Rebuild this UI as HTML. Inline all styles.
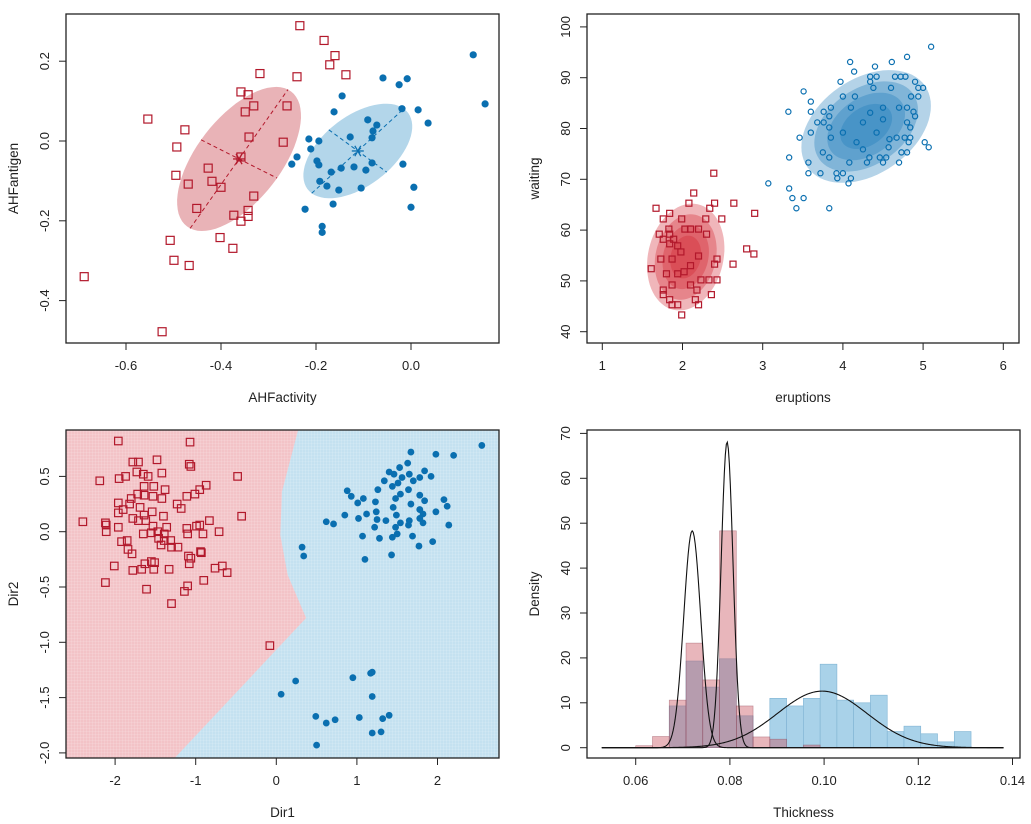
<!DOCTYPE html>
<html><head><meta charset="utf-8"><style>
html,body{margin:0;padding:0;background:#fff}
svg{display:block;font-family:"Liberation Sans",Arial,sans-serif}
</style></head><body>
<svg id="chart" width="1031" height="824" viewBox="0 0 1031 824" xmlns="http://www.w3.org/2000/svg"></svg>
<script>
// ---------- Panel 1 data (AHFactivity vs AHFantigen) ----------
const p1RedX=[-0.234,-0.183,-0.160,-0.171,-0.137,-0.318,-0.240,-0.358,-0.343,-0.331,-0.349,-0.261,-0.554,-0.476,-0.341,-0.269,-0.493,-0.358,-0.427,-0.495,-0.419,-0.469,-0.400,-0.331,-0.451,-0.343,-0.373,-0.343,-0.358,-0.507,-0.402,-0.375,-0.499,-0.467,-0.688,-0.524];
const p1RedY=[0.289,0.252,0.214,0.191,0.166,0.169,0.161,0.123,0.116,0.088,0.073,0.088,0.055,0.028,0.010,-0.003,-0.015,-0.040,-0.068,-0.086,-0.101,-0.108,-0.116,-0.138,-0.169,-0.174,-0.186,-0.189,-0.201,-0.249,-0.242,-0.269,-0.299,-0.312,-0.340,-0.478];
const p1BlueX=[0.131,0.156,-0.059,-0.025,-0.008,-0.145,-0.019,0.015,0.036,-0.162,-0.091,-0.072,-0.080,-0.082,-0.128,-0.215,-0.194,-0.211,-0.240,-0.251,-0.198,-0.194,-0.147,-0.120,-0.095,-0.082,-0.017,-0.168,-0.192,-0.177,-0.152,-0.105,0.006,-0.164,-0.223,0.000,-0.187,-0.187];
const p1BlueY=[0.216,0.093,0.158,0.141,0.156,0.113,0.081,0.078,0.045,0.073,0.053,0.040,0.025,0.008,0.010,0.005,0.000,-0.020,-0.040,-0.058,-0.050,-0.060,-0.068,-0.065,-0.073,-0.055,-0.058,-0.078,-0.101,-0.113,-0.123,-0.118,-0.116,-0.158,-0.171,-0.166,-0.214,-0.229];
const p1Centers=[[-0.362,-0.045],[-0.112,-0.025]];
const p1Major=[[0.103,0.174],[0.097,0.106]];
const p1Minor=[[0.080,-0.048],[0.061,-0.053]];
const p1XTicks=[-0.6,-0.4,-0.2,0.0];
const p1YTicks=[0.2,0.0,-0.2,-0.4];

// ---------- Panel 2 data (faithful) ----------
const p2BlueX=[5.10,4.80,4.09,4.61,4.40,4.14,4.34,4.42,4.65,4.72,4.78,3.97,4.34,4.90,3.51,4.38,4.60,4.94,5.00,3.60,4.00,4.15,4.85,4.94,3.32,3.60,3.76,3.85,4.10,4.50,4.70,4.80,4.88,3.83,4.90,3.68,3.76,4.80,3.83,4.84,3.60,3.46,3.85,4.67,4.77,4.84,4.82,4.57,5.02,5.07,3.75,4.73,4.80,3.33,3.83,4.33,4.46,4.54,3.57,4.08,4.30,4.50,4.70,3.57,3.72,3.92,4.00,3.93,4.10,4.07,3.07,3.33,3.37,3.51,3.42,3.83,4.25,4.42,4.17,4.50,4.00,4.34,4.58,4.25];
const p2BlueY=[96.1,94.1,93.1,93.1,92.2,91.2,90.2,90.2,90.2,90.2,90.2,89.2,89.2,89.2,87.3,88.0,88.0,88.0,88.0,85.3,86.3,86.3,86.3,86.3,83.3,83.3,83.3,84.1,84.1,84.1,84.1,84.1,83.3,82.4,82.4,81.2,81.2,81.2,80.2,80.2,79.2,78.2,78.2,78.2,78.2,78.2,77.3,76.3,77.3,76.3,75.3,75.3,75.3,74.3,74.3,74.3,74.3,74.3,73.3,73.3,73.3,73.3,73.3,71.2,71.2,71.2,71.2,70.2,70.2,69.2,69.2,68.2,66.3,66.3,64.3,64.3,81.2,79.2,77.3,81.8,79.2,83.1,77.9,75.9];
const p2RedX=[2.39,2.14,1.67,2.08,2.40,2.64,1.84,2.34,2.90,1.76,1.99,2.29,2.49,1.83,2.03,2.10,2.20,1.71,1.84,2.30,1.76,1.89,1.84,2.80,2.89,1.73,1.87,2.43,1.61,2.63,2.40,1.80,1.94,2.23,2.33,2.43,1.87,2.10,1.76,2.18,2.36,1.76,1.84,2.16,1.87,1.94,2.20,1.99,1.98,2.10,1.94,2.20,2.02];
const p2RedY=[71.2,67.3,64.3,65.3,65.3,65.3,63.3,64.3,63.3,62.2,62.2,62.2,62.2,60.2,60.2,60.2,60.2,59.2,59.2,59.2,58.2,58.2,57.3,56.3,55.3,54.3,54.3,54.3,52.4,53.3,53.3,51.4,51.4,50.2,50.2,50.2,49.2,49.2,48.2,48.2,47.3,47.3,46.3,46.3,45.3,45.3,45.3,43.3,55.7,53.0,56.9,54.9,51.8];
const p2Centers=[[2.04,54.7],[4.29,80.4]];
const p2Major=[[0.149,10.4],[0.732,8.04]];
const p2Minor=[[0.459,-1.57],[0.341,-7.65]];
const p2Levels=[1.0,0.8,0.6,0.4];
const p2XTicks=[1,2,3,4,5,6];
const p2YTicks=[40,50,60,70,80,90,100];

// ---------- Panel 3 data (Dir1 vs Dir2) ----------
const p3RedX=[-1.96,-1.07,-1.78,-1.71,-1.48,-1.73,-1.65,-1.59,-1.42,-2.19,-1.95,-1.87,-1.08,-1.06,-0.48,-1.64,-1.52,-0.87,-1.38,-1.72,-1.64,-1.53,-0.95,-1.01,-1.11,-1.42,-1.80,-1.96,-1.82,-1.23,-1.18,-1.69,-1.90,-1.96,-1.64,-1.54,-1.40,-1.78,-1.71,-1.62,-0.43,-2.40,-2.12,-2.11,-0.83,-1.53,-1.36,-1.96,-1.11,-0.99,-0.95,-0.71,-2.11,-1.65,-1.55,-1.47,-1.39,-1.10,-0.91,-1.46,-1.39,-1.31,-1.92,-1.85,-1.43,-1.30,-1.22,-1.84,-1.79,-0.94,-0.93,-1.09,-1.06,-1.08,-1.55,-1.51,-1.63,-2.01,-1.78,-1.67,-1.52,-1.33,-0.76,-0.67,-0.61,-0.90,-2.12,-1.61,-1.10,-1.14,-1.30,-0.08];
const p3RedY=[0.82,0.81,0.63,0.63,0.65,0.54,0.52,0.50,0.53,0.46,0.48,0.50,0.61,0.59,0.50,0.41,0.41,0.42,0.38,0.34,0.33,0.32,0.38,0.34,0.32,0.30,0.30,0.26,0.25,0.25,0.21,0.22,0.20,0.17,0.15,0.18,0.14,0.12,0.10,0.10,0.14,0.09,0.08,0.06,0.10,0.05,0.04,0.04,0.03,0.05,0.06,0.00,0.00,-0.02,-0.01,0.00,-0.02,-0.02,-0.02,-0.06,-0.08,-0.08,-0.09,-0.08,-0.12,-0.14,-0.14,-0.16,-0.20,-0.18,-0.19,-0.22,-0.24,-0.29,-0.27,-0.28,-0.29,-0.31,-0.35,-0.34,-0.34,-0.34,-0.33,-0.31,-0.37,-0.44,-0.46,-0.52,-0.49,-0.54,-0.65,-1.03];
const p3BlueX=[2.55,1.67,1.98,2.20,1.63,1.53,1.40,1.84,1.46,1.65,1.56,1.78,1.92,1.34,1.70,1.51,1.44,1.26,0.88,1.64,1.54,0.93,1.08,1.48,1.78,2.08,1.01,1.23,1.67,1.84,2.12,1.45,1.78,0.85,1.12,1.24,1.49,1.82,1.98,1.02,1.25,1.36,1.65,1.78,0.62,0.71,1.54,1.82,2.14,1.22,1.48,1.64,1.50,1.07,1.28,1.44,1.69,1.94,1.77,0.32,0.34,1.10,1.43,1.19,1.17,0.95,0.24,0.06,1.19,0.49,0.62,0.73,1.03,1.32,1.40,1.19,1.30,0.50];
const p3BlueY=[0.78,0.72,0.70,0.69,0.62,0.58,0.54,0.55,0.52,0.52,0.49,0.49,0.50,0.46,0.46,0.44,0.41,0.38,0.37,0.38,0.34,0.32,0.30,0.30,0.33,0.29,0.26,0.27,0.25,0.28,0.23,0.22,0.20,0.15,0.16,0.18,0.15,0.16,0.18,0.12,0.11,0.10,0.10,0.12,0.09,0.07,0.08,0.08,0.06,0.04,0.04,0.06,-0.02,-0.04,-0.06,-0.05,-0.04,-0.09,-0.13,-0.14,-0.22,-0.25,-0.21,-1.27,-1.28,-1.32,-1.35,-1.47,-1.49,-1.67,-1.73,-1.70,-1.68,-1.69,-1.66,-1.82,-1.81,-1.93];
const p3BoundX=[0.27,0.07,0.05,0.14,0.37,-1.26];
const p3BoundY=[0.92,0.36,-0.03,-0.39,-0.78,-2.05];
const p3XTicks=[-2,-1,0,1,2];
const p3YTicks=[0.5,0.0,-0.5,-1.0,-1.5,-2.0];

// ---------- Panel 4 data (Thickness histogram) ----------
const histStart=0.06;
const histWidth=0.00356;
const histRed=[0.45,2.5,10.6,23.3,15.1,48.3,9.3,2.4,1.9,0,0.6,0,0,0,0,0,0,0,0,0];
const histBlue=[0,0,9.3,19.3,13.5,19.8,7.1,0,11.0,9.3,11.0,18.6,10.6,10.0,11.7,3.6,4.8,3.1,1.3,3.6];
const curveMu=[0.0720,0.0794,0.0996];
const curveSigma=[0.0018,0.00126,0.0095];
const curvePeak=[48.3,68.1,12.6];
const p4XTicks=[0.06,0.08,0.10,0.12,0.14];
const p4YTicks=[0,10,20,30,40,50,60,70];

// ---------- helpers ----------
const NS="http://www.w3.org/2000/svg";
const svg=document.getElementById('chart');
function mk(tag,attrs,parent){const e=document.createElementNS(NS,tag);for(const k in attrs)e.setAttribute(k,attrs[k]);(parent||svg).appendChild(e);return e;}
function lin(d0,d1,r0,r1){return v=>r0+(v-d0)*(r1-r0)/(d1-d0);}
const RED="#b2182b", BLUE="#0a6fb0";

function axes(g,box,sx,sy,xt,yt,xl,yl,fmtX,fmtY,name){
  const b=mk('rect',{x:box.l,y:box.t,width:box.r-box.l,height:box.b-box.t,fill:'none',stroke:'#222','stroke-width':1.3},g);
  
  
  xt.forEach(v=>{const x=sx(v);
    const t=mk('line',{x1:x,x2:x,y1:box.b,y2:box.b+7,stroke:'#222','stroke-width':1},g);
    
    
    const l=mk('text',{x:x,y:box.b+27,'text-anchor':'middle','font-size':13,fill:'#222'},g);l.textContent=fmtX(v);
    
    
  });
  yt.forEach(v=>{const y=sy(v);
    const t=mk('line',{x1:box.l-7,x2:box.l,y1:y,y2:y,stroke:'#222','stroke-width':1},g);
    
    
    const lx=box.l-17;
    const l=mk('text',{x:lx,y:y,'text-anchor':'middle','font-size':13,fill:'#222',transform:`rotate(-90 ${lx} ${y})`},g);l.textContent=fmtY(v);
    
    
  });
  const cx=(box.l+box.r)/2, cy=(box.t+box.b)/2;
  const xa=mk('text',{x:cx,y:box.b+59,'text-anchor':'middle','font-size':13.5,fill:'#222'},g);xa.textContent=xl;
  
  
  const ax=box.l-48;
  const ya=mk('text',{x:ax,y:cy,'text-anchor':'middle','font-size':13.5,fill:'#222',transform:`rotate(-90 ${ax} ${cy})`},g);ya.textContent=yl;
  
  
}
function ellipsePath(sx,sy,c,M,m,s){
  let d='';
  for(let i=0;i<=72;i++){const t=i/72*2*Math.PI;
    const x=c[0]+s*(M[0]*Math.cos(t)+m[0]*Math.sin(t));
    const y=c[1]+s*(M[1]*Math.cos(t)+m[1]*Math.sin(t));
    d+=(i?'L':'M')+sx(x).toFixed(1)+' '+sy(y).toFixed(1);}
  return d+'Z';
}
function square(g,x,y,s,color,name){
  const r=mk('rect',{x:x-s/2,y:y-s/2,width:s,height:s,fill:'none',stroke:color,'stroke-width':1.2},g);
  
  
}
function dot(g,x,y,r,color,filled,name){
  const c=mk('circle',{cx:x,cy:y,r:r,fill:filled?color:'none',stroke:color,'stroke-width':filled?0:1.2},g);
  
  
}
const f1=v=>v.toFixed(1);
const f0=v=>String(v);
const f2=v=>v.toFixed(2);

// ---------- Panel 1 ----------
(function(){
  const box={l:66,r:499,t:14,b:343};
  const sx=lin(0,1,411,886), sy=lin(0,1,141,-258);
  const g=mk('g',{});
  
  
  const cols=['#e9b3b7','#b3d6ea'], lc=[RED,BLUE];
  for(let k=0;k<2;k++){
    const e=mk('path',{d:ellipsePath(sx,sy,p1Centers[k],p1Major[k],p1Minor[k],1),fill:cols[k]},g);
    
    
    const c=p1Centers[k];
    [p1Major[k],p1Minor[k]].forEach(v=>{
      const l=mk('line',{x1:sx(c[0]-v[0]),y1:sy(c[1]-v[1]),x2:sx(c[0]+v[0]),y2:sy(c[1]+v[1]),stroke:lc[k],'stroke-width':1,'stroke-dasharray':'4 3'},g);
      
      
    });
    const X=sx(c[0]),Y=sy(c[1]);
    [[6,0],[3,5.2],[3,-5.2]].forEach(o=>{
      const s=mk('line',{x1:X-o[0],y1:Y-o[1],x2:X+o[0],y2:Y+o[1],stroke:lc[k],'stroke-width':1.3},g);
      
      
    });
  }
  p1RedX.forEach((v,i)=>square(g,sx(v),sy(p1RedY[i]),8,RED,'red-point'));
  p1BlueX.forEach((v,i)=>dot(g,sx(v),sy(p1BlueY[i]),3.6,BLUE,true,'blue-point'));
  axes(g,box,sx,sy,p1XTicks,p1YTicks,'AHFactivity','AHFantigen',f1,f1,'panel1');
})();

// ---------- Panel 2 ----------
(function(){
  const box={l:587,r:1019,t:14,b:343};
  const sx=lin(1,2,602.3,682.5), sy=lin(40,50,331.7,280.9);
  const g=mk('g',{});
  
  
  const cols=['#d0202e','#1a78b8'];
  for(let k=0;k<2;k++){
    p2Levels.forEach(s=>{
      const e=mk('path',{d:ellipsePath(sx,sy,p2Centers[k],p2Major[k],p2Minor[k],s),fill:cols[k],'fill-opacity':0.33},g);
      
      
    });
  }
  p2RedX.forEach((v,i)=>square(g,sx(v),sy(p2RedY[i]),6,RED,'red-point'));
  p2BlueX.forEach((v,i)=>dot(g,sx(v),sy(p2BlueY[i]),2.6,BLUE,false,'blue-point'));
  axes(g,box,sx,sy,p2XTicks,p2YTicks,'eruptions','waiting',f0,f0,'panel2');
})();

// ---------- Panel 3 ----------
(function(){
  const box={l:66,r:499,t:430,b:758};
  const sx=lin(0,1,276.3,356.9), sy=lin(0,1,531.7,421.1);
  const g=mk('g',{});
  
  
  const bg=mk('rect',{x:box.l,y:box.t,width:box.r-box.l,height:box.b-box.t,fill:'#c4e1f0'},g);
  
  
  let d=`M${box.l} ${box.t}`;
  p3BoundX.forEach((v,i)=>{d+=`L${sx(v).toFixed(1)} ${Math.min(box.b,Math.max(box.t,sy(p3BoundY[i]))).toFixed(1)}`;});
  d+=`L${box.l} ${box.b}Z`;
  const rr=mk('path',{d:d,fill:'#f3c3c7'},g);
  
  
  const defs=mk('defs',{},g);
  const pat=mk('pattern',{id:'grid3',width:3,height:3,patternUnits:'userSpaceOnUse'},defs);
  mk('path',{d:'M3 0V3H0',fill:'none',stroke:'#ffffff','stroke-width':0.6,'stroke-opacity':0.45},pat);
  const gr=mk('rect',{x:box.l,y:box.t,width:box.r-box.l,height:box.b-box.t,fill:'url(#grid3)'},g);
  
  
  p3RedX.forEach((v,i)=>square(g,sx(v),sy(p3RedY[i]),7.5,RED,'red-point'));
  p3BlueX.forEach((v,i)=>dot(g,sx(v),sy(p3BlueY[i]),3.4,BLUE,true,'blue-point'));
  axes(g,box,sx,sy,p3XTicks,p3YTicks,'Dir1','Dir2',f0,f1,'panel3');
})();

// ---------- Panel 4 ----------
(function(){
  const box={l:587,r:1020,t:430,b:758};
  const sx=lin(0.06,0.08,635.7,729.9), sy=lin(0,10,747.7,702.8);
  const g=mk('g',{});
  
  
  histBlue.forEach((v,i)=>{ if(v<=0) return;
    const x0=sx(histStart+i*histWidth), x1=sx(histStart+(i+1)*histWidth);
    const r=mk('rect',{x:x0,y:sy(v),width:x1-x0,height:sy(0)-sy(v),fill:'#a9d2e9',stroke:'#7fb3d3','stroke-width':0.6},g);
    
    
  });
  histRed.forEach((v,i)=>{ if(v<=0) return;
    const x0=sx(histStart+i*histWidth), x1=sx(histStart+(i+1)*histWidth);
    const r=mk('rect',{x:x0,y:sy(v),width:x1-x0,height:sy(0)-sy(v),fill:'#c8505e','fill-opacity':0.42,stroke:'#8a3a4a','stroke-opacity':0.5,'stroke-width':0.6},g);
    
    
  });
  curveMu.forEach((mu,k)=>{
    let d='';
    for(let i=0;i<=400;i++){const x=0.0528+i*(0.1381-0.0528)/400;
      const y=curvePeak[k]*Math.exp(-0.5*Math.pow((x-mu)/curveSigma[k],2));
      d+=(i?'L':'M')+sx(x).toFixed(2)+' '+sy(y).toFixed(2);}
    const p=mk('path',{d:d,fill:'none',stroke:'#111','stroke-width':1.1},g);
    
    
  });
  axes(g,box,sx,sy,p4XTicks,p4YTicks,'Thickness','Density',f2,f0,'panel4');
})();
</script>
</body></html>
